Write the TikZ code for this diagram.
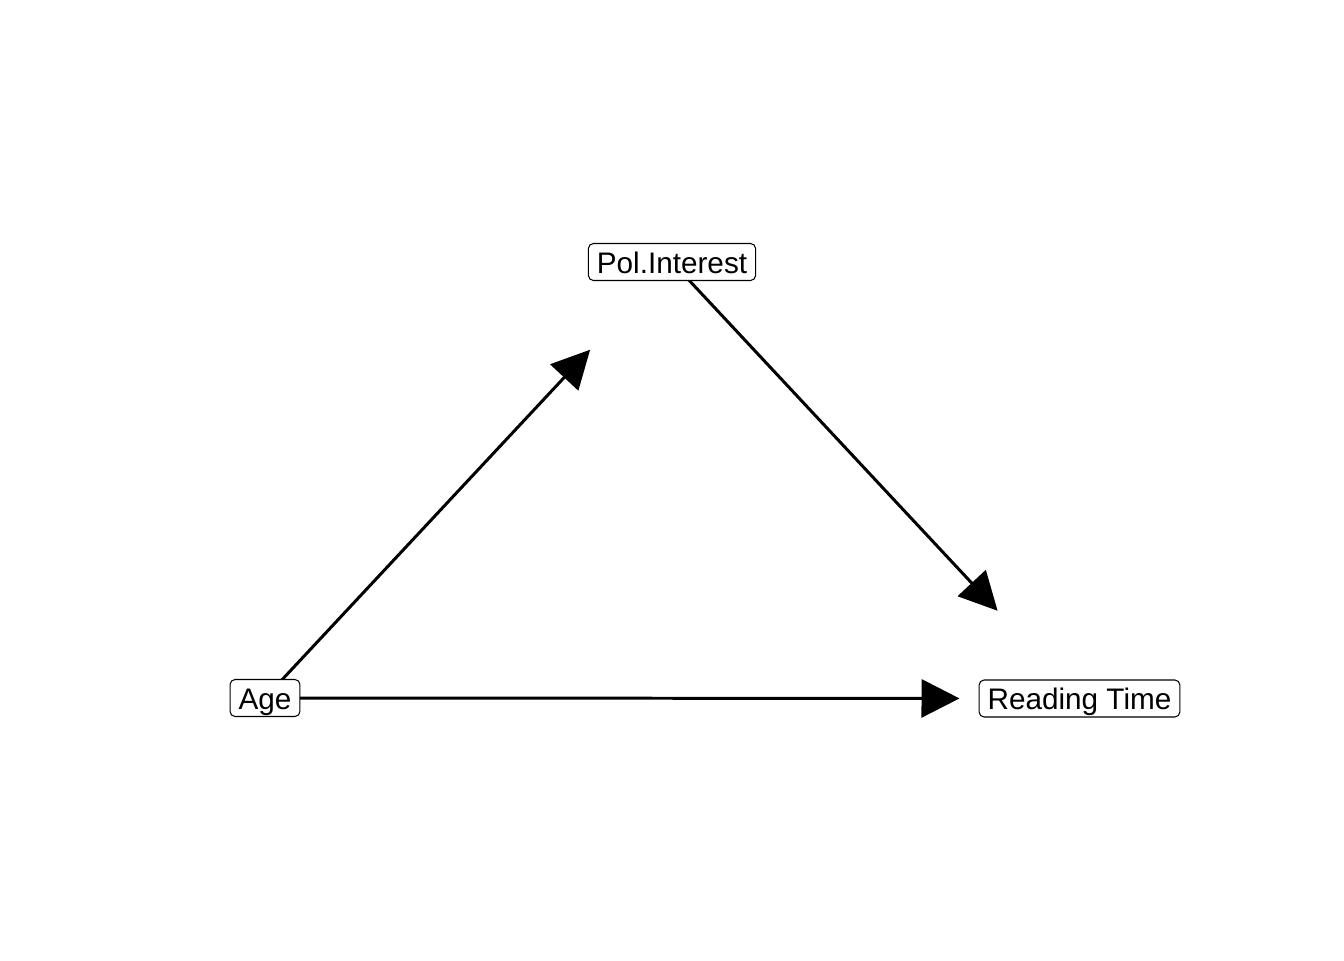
\documentclass[tikz,border=0pt]{standalone}
\usepackage{fontspec}
\setmainfont{Liberation Sans}
\usetikzlibrary{arrows.meta,backgrounds}
\begin{document}
\begin{tikzpicture}[scale=1, transform shape]
		\tikzset{>={Triangle[length=0.38cm,width=0.38cm]}}
		\tikzset{var/.style={draw,fill=white,rounded corners=0.05cm,line width=0.3pt,inner xsep=0.085cm,inner ysep=0.045cm,text height=0.25cm,text depth=0.03cm,font=\fontsize{8.45}{10}\selectfont}}
		\tikzset{edge/.style={->,line width=0.85pt,shorten >=1.2cm}}
		\useasboundingbox (0,0) rectangle (13.44,9.6);
		\node[var] (pol) at (6.72,6.98) {Pol.Interest};
		\node[var] (age) at (2.65,2.62) {Age};
		\node[var] (rt) at (10.795,2.615) {Reading Time};
		\begin{scope}[on background layer]
		\draw [edge] (age.center) -- (pol.center);
		\draw [edge] (pol.center) -- (rt.center);
		\draw [edge] (age.center) -- (rt.center);
		\end{scope}
	    \end{tikzpicture}
\end{document}
